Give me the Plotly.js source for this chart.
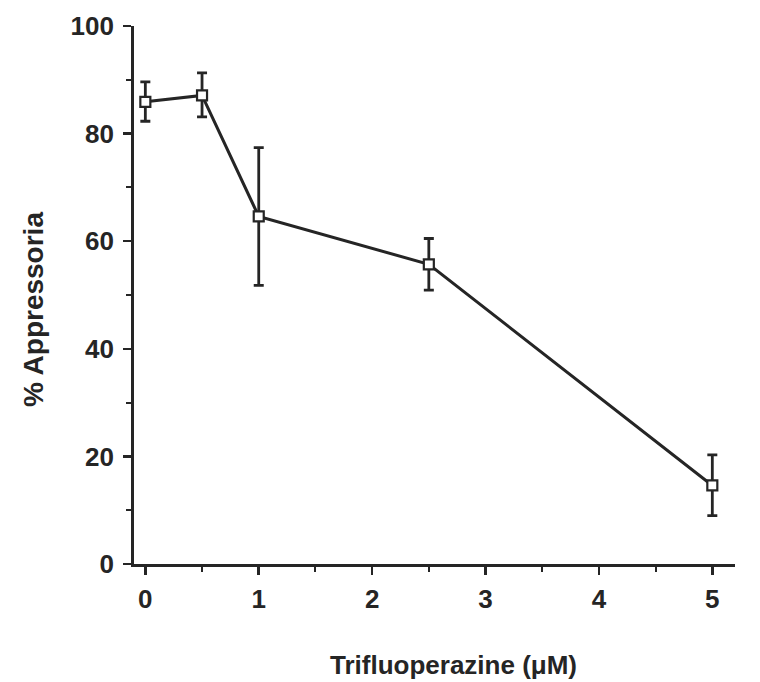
<!DOCTYPE html>
<html>
<head>
<meta charset="utf-8">
<script src="https://cdn.plot.ly/plotly-3.0.1.min.js"></script>
<style>html,body{margin:0;padding:0;background:#fff;}#chart{width:760px;height:682px;}</style>
</head>
<body>
<div id="chart"></div>
<script>
var concentration = [0, 0.5, 1, 2.5, 5];
var appressoria = [85.9, 87.1, 64.6, 55.7, 14.6];
var errUpper = [3.7, 4.2, 12.8, 4.8, 5.7];
var errLower = [3.6, 4.0, 12.8, 4.8, 5.6];
var xTicks = [0, 1, 2, 3, 4, 5];
var yTicks = [0, 20, 40, 60, 80, 100];
var xTitle = 'Trifluoperazine (\u03bcM)';
var yTitle = '% Appressoria';

var ink = '#252525';
var fam = 'Liberation Sans, Arial, sans-serif';
var trace = {
  x: concentration,
  y: appressoria,
  type: 'scatter',
  mode: 'lines+markers',
  line: {color: ink, width: 3},
  marker: {symbol: 'square', size: 10, color: '#ffffff', line: {color: ink, width: 2.2}},
  error_y: {type: 'data', symmetric: false, array: errUpper, arrayminus: errLower,
            color: ink, thickness: 2.8, width: 5},
  cliponaxis: false
};

var tickFont = {family: fam, size: 26, color: ink, weight: 'bold'};
var layout = {
  width: 760, height: 682,
  margin: {l: 134, r: 25, t: 26, b: 118},
  paper_bgcolor: '#ffffff', plot_bgcolor: '#ffffff',
  showlegend: false,
  xaxis: {
    range: [-0.1, 5.2],
    tickvals: xTicks, ticktext: xTicks.map(String),
    ticks: 'outside', ticklen: 8, tickwidth: 2.5, tickcolor: ink,
    minor: {dtick: 0.5, ticks: 'outside', ticklen: 5, tickwidth: 2, tickcolor: ink},
    showline: true, linecolor: ink, linewidth: 2.8,
    showgrid: false, zeroline: false,
    ticklabelstandoff: 2,
    tickfont: tickFont
  },
  yaxis: {
    range: [0, 100],
    tickvals: yTicks, ticktext: yTicks.map(String),
    ticks: 'outside', ticklen: 8, tickwidth: 2.5, tickcolor: ink,
    minor: {dtick: 10, ticks: 'outside', ticklen: 5, tickwidth: 2, tickcolor: ink},
    showline: true, linecolor: ink, linewidth: 2.8,
    showgrid: false, zeroline: false,
    ticklabelstandoff: 4,
    tickfont: tickFont
  },
  annotations: [
    {text: xTitle, xref: 'paper', yref: 'paper', x: 0.531, y: -0.188,
     xanchor: 'center', yanchor: 'middle', showarrow: false,
     font: {family: fam, size: 26, color: ink, weight: 'bold'}},
    {text: yTitle, xref: 'paper', yref: 'paper', x: 0, xshift: -101, y: 0.472,
     xanchor: 'center', yanchor: 'middle', textangle: -90, showarrow: false,
     font: {family: fam, size: 28, color: ink, weight: 'bold'}}
  ]
};

Plotly.newPlot('chart', [trace], layout, {displayModeBar: false, staticPlot: true});
</script>
</body>
</html>
